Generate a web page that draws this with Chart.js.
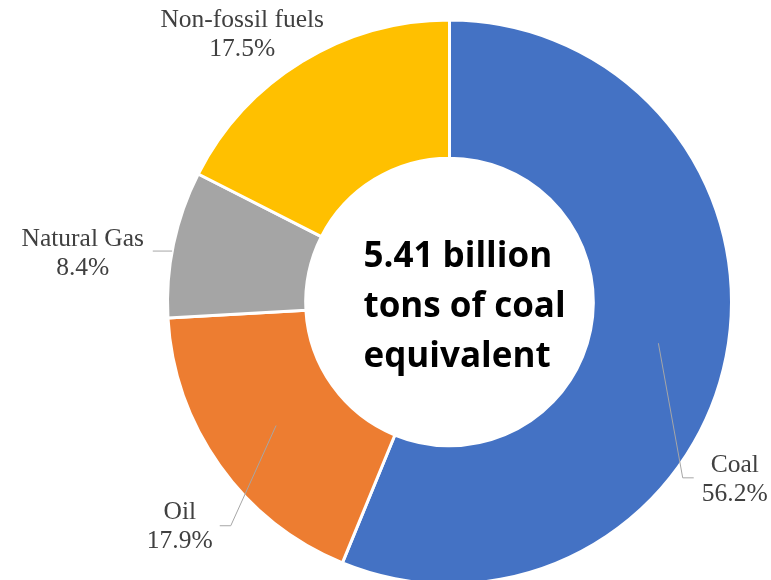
<!DOCTYPE html>
<html>
<head>
<meta charset="utf-8">
<script src="https://cdn.jsdelivr.net/npm/chart.js@4/dist/chart.umd.min.js"></script>
<style>
  html, body { margin: 0; padding: 0; background: #fff; overflow: hidden; }
  #wrap { width: 771px; height: 580px; overflow: hidden; }
</style>
</head>
<body>
<div id="wrap"><canvas id="energyChart" width="771" height="604"></canvas></div>
<script>
// Energy consumption mix
const categories = ['Coal', 'Oil', 'Natural Gas', 'Non-fossil fuels'];
const shares = [56.2, 17.9, 8.4, 17.5];
const sliceColors = ['#4472C4', '#ED7D31', '#A5A5A5', '#FFC000'];
const centerLines = ['5.41 billion', 'tons of coal', 'equivalent'];

// label placement: polar angle (deg, canvas coords) and distance as a multiple of the outer radius
const labelPlacement = [
  { angle: 31.8, dist: 1.19, leader: 'elbow', elbowDx: -52, endDx: -41 },
  { angle: 140.2, dist: 1.245, leader: 'elbow', elbowDx: 51, endDx: 40 },
  { angle: 187.6, dist: 1.312, leader: 'flat', endDx: 70 },
  { angle: 232.3, dist: 1.202, leader: 'none' }
];

const labelPlugin = {
  id: 'sliceLabels',
  afterDraw(chart) {
    const ctx = chart.ctx;
    const arcs = chart.getDatasetMeta(0).data;
    ctx.save();
    arcs.forEach((arc, i) => {
      const p = labelPlacement[i];
      const R = arc.outerRadius;
      const rad = p.angle * Math.PI / 180;
      const lx = arc.x + Math.cos(rad) * R * p.dist;
      const ly = arc.y + Math.sin(rad) * R * p.dist;

      // leader line
      ctx.strokeStyle = '#A6A6A6';
      ctx.lineWidth = 1;
      const mid = (arc.startAngle + arc.endAngle) / 2;
      if (p.leader === 'elbow') {
        const rr = (arc.innerRadius + arc.outerRadius) / 2;
        ctx.beginPath();
        ctx.moveTo(arc.x + Math.cos(mid) * rr, arc.y + Math.sin(mid) * rr);
        ctx.lineTo(lx + p.elbowDx, ly - 1);
        ctx.lineTo(lx + p.endDx, ly - 1);
        ctx.stroke();
      } else if (p.leader === 'flat') {
        const yy = ly - 2;
        const dy = yy - arc.y;
        const sx = arc.x - Math.sqrt(R * R - dy * dy);
        ctx.beginPath();
        ctx.moveTo(sx, yy);
        ctx.lineTo(lx + p.endDx, yy);
        ctx.stroke();
      }

      // text
      ctx.fillStyle = '#404040';
      ctx.font = '25.5px "Liberation Serif"';
      ctx.textAlign = 'center';
      ctx.textBaseline = 'middle';
      ctx.fillText(categories[i], lx, ly - 14);
      ctx.fillText(shares[i].toFixed(1) + '%', lx, ly + 15);
    });

    // center text
    const c = arcs[0];
    ctx.fillStyle = '#000';
    ctx.font = 'bold 35px "Open Sans"';
    ctx.textAlign = 'left';
    ctx.textBaseline = 'alphabetic';
    centerLines.forEach((t, k) => {
      ctx.fillText(t, c.x - 86, c.y - 35 + k * 50);
    });
    ctx.restore();
  }
};

new Chart(document.getElementById('energyChart'), {
  type: 'doughnut',
  data: {
    labels: categories,
    datasets: [{
      data: shares,
      backgroundColor: sliceColors,
      borderColor: '#ffffff',
      borderWidth: 3,
      hoverOffset: 0
    }]
  },
  options: {
    responsive: false,
    animation: false,
    devicePixelRatio: 1,
    cutout: '51%',
    layout: { padding: { left: 166, right: 38, top: 18, bottom: 18 } },
    plugins: {
      legend: { display: false },
      tooltip: { enabled: false }
    }
  },
  plugins: [labelPlugin]
});
</script>
</body>
</html>
